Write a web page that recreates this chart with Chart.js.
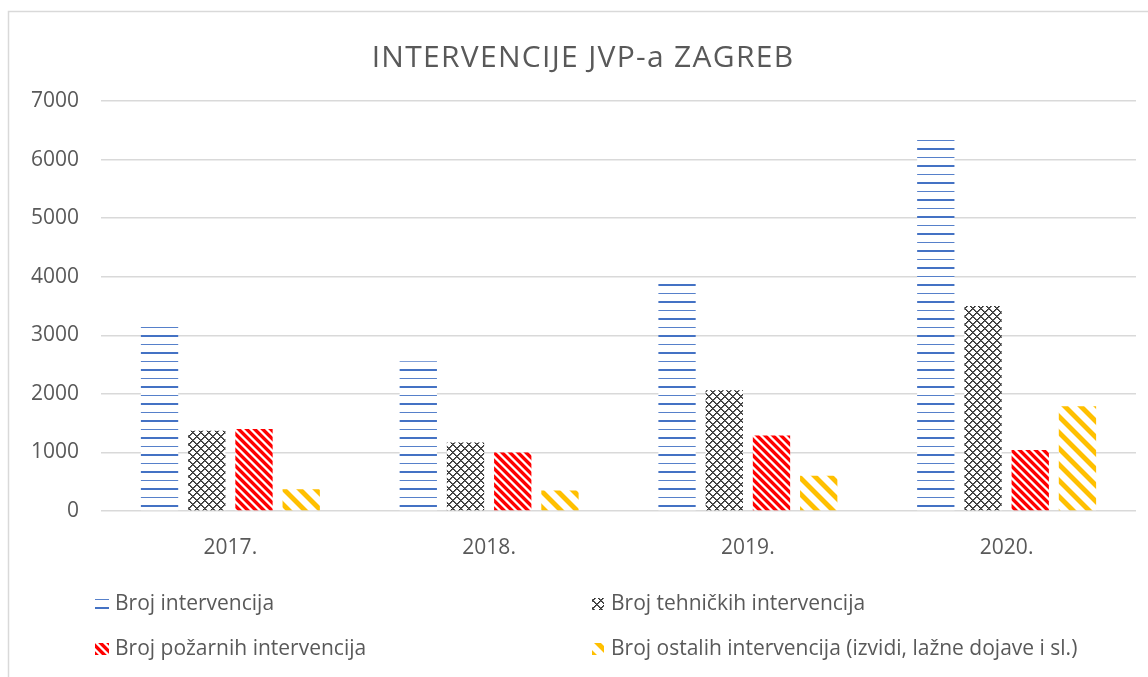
<!DOCTYPE html>
<html>
<head>
<meta charset="utf-8">
<script src="https://cdn.jsdelivr.net/npm/chart.js@4/dist/chart.umd.min.js"></script>
<style>
html,body{margin:0;padding:0;background:#fff;}
#wrap{position:relative;width:1148px;height:677px;}
</style>
</head>
<body>
<div id="wrap"><canvas id="c" width="1148" height="677"></canvas></div>
<script>
const titleText = 'INTERVENCIJE JVP-a ZAGREB';
const categories = ['2017.', '2018.', '2019.', '2020.'];
const seriesNames = [
  'Broj intervencija',
  'Broj tehničkih intervencija',
  'Broj požarnih intervencija',
  'Broj ostalih intervencija (izvidi, lažne dojave i sl.)'
];
const brojIntervencija = [3150, 2555, 3880, 6340];
const brojTehnickih = [1370, 1170, 2060, 3500];
const brojPozarnih = [1400, 1000, 1290, 1040];
const brojOstalih = [370, 350, 600, 1790];
const yTicks = [0, 1000, 2000, 3000, 4000, 5000, 6000, 7000];

const FONT = '"Open Sans", "Noto Sans", sans-serif';
const TEXT = '#595959';

function makePattern(w, h, draw) {
  const c = document.createElement('canvas');
  c.width = w; c.height = h;
  const g = c.getContext('2d');
  g.fillStyle = '#ffffff';
  g.fillRect(0, 0, w, h);
  draw(g, w, h);
  return g.createPattern(c, 'repeat');
}
const pBlue = makePattern(4, 17, (g) => {
  g.fillStyle = 'rgba(68,114,196,0.9)';
  g.fillRect(0, 4, 4, 1);
  g.fillStyle = '#4472C4';
  g.fillRect(0, 12, 4, 2);
});
const pGray = makePattern(8, 8, (g) => {
  for (let y = 0; y < 8; y++) for (let x = 0; x < 8; x++) {
    const a = (x + y) % 8, b = ((x - y) % 8 + 8) % 8;
    if (a < 2 || b < 2) {
      g.fillStyle = (a === 0 || b === 0) ? '#2e2e2e' : '#6a6a6a';
      g.fillRect(x, y, 1, 1);
    }
  }
});
const pRed = makePattern(8, 8, (g) => {
  for (let y = 0; y < 8; y++) for (let x = 0; x < 8; x++) {
    const a = ((x - y) % 8 + 8) % 8;
    if (a < 4) { g.fillStyle = '#ff0000'; g.fillRect(x, y, 1, 1); }
    else if (a === 4 || a === 7) { g.fillStyle = '#ff9a9a'; g.fillRect(x, y, 1, 1); }
  }
});
const pYellow = makePattern(16, 16, (g) => {
  for (let y = 0; y < 16; y++) for (let x = 0; x < 16; x++) {
    const a = ((x - y) % 16 + 16) % 16;
    if (a < 6) { g.fillStyle = '#ffc000'; g.fillRect(x, y, 1, 1); }
    else if (a === 6 || a === 15) { g.fillStyle = '#ffe08a'; g.fillRect(x, y, 1, 1); }
  }
});

const decor = {
  id: 'decor',
  beforeDraw(chart) {
    const ctx = chart.ctx;
    ctx.save();
    ctx.fillStyle = '#fff';
    ctx.fillRect(0, 0, chart.width, chart.height);
    ctx.strokeStyle = '#d9d9d9';
    ctx.lineWidth = 1.5;
    ctx.beginPath();
    ctx.moveTo(8.5, 677);
    ctx.lineTo(8.5, 11.5);
    ctx.lineTo(1148, 11.5);
    ctx.stroke();
    ctx.restore();
  },
  afterDraw(chart) {
    const ctx = chart.ctx;
    ctx.save();
    ctx.fillStyle = TEXT;
    ctx.font = '30px ' + FONT;
    ctx.textAlign = 'center';
    ctx.textBaseline = 'middle';
    try { ctx.letterSpacing = '1.3px'; } catch (e) {}
    ctx.fillText(titleText, 583, 58);
    try { ctx.letterSpacing = '0px'; } catch (e) {}
    ctx.font = '21px ' + FONT;
    ctx.textAlign = 'left';
    chart.data.datasets.forEach((ds, i) => {
      const col = i % 2, row = Math.floor(i / 2);
      const x = col ? 592 : 95;
      const y = row ? 649 : 604;
      ctx.fillStyle = ds.backgroundColor;
      ctx.fillRect(x, y - 6, col ? 12 : 14, 12);
      ctx.fillStyle = TEXT;
      ctx.fillText(ds.label, x + (col ? 19 : 20), y);
    });
    ctx.restore();
  }
};

new Chart(document.getElementById('c'), {
  type: 'bar',
  data: {
    labels: categories,
    datasets: [
      { label: seriesNames[0], data: brojIntervencija, backgroundColor: pBlue },
      { label: seriesNames[1], data: brojTehnickih, backgroundColor: pGray },
      { label: seriesNames[2], data: brojPozarnih, backgroundColor: pRed },
      { label: seriesNames[3], data: brojOstalih, backgroundColor: pYellow }
    ]
  },
  options: {
    responsive: false,
    animation: false,
    devicePixelRatio: 1,
    layout: { padding: { top: 101, right: 12, left: 0, bottom: 0 } },
    datasets: { bar: { categoryPercentage: 0.73, barPercentage: 0.79, borderWidth: 0 } },
    plugins: { legend: { display: false }, title: { display: false }, tooltip: { enabled: false } },
    scales: {
      x: {
        grid: { display: false },
        border: { display: false },
        ticks: { color: TEXT, font: { family: FONT, size: 21 }, padding: 16 },
        afterFit(scale) { scale.height = 166; }
      },
      y: {
        min: 0, max: 7000,
        afterBuildTicks(scale) { scale.ticks = yTicks.map(v => ({ value: v })); },
        grid: { color: '#d9d9d9', lineWidth: 1.5, drawTicks: false },
        border: { display: false },
        ticks: { color: TEXT, font: { family: FONT, size: 21 }, padding: 22, callback: (v) => String(v) },
        afterFit(scale) { scale.width = 101; }
      }
    }
  },
  plugins: [decor]
});
</script>
</body>
</html>
